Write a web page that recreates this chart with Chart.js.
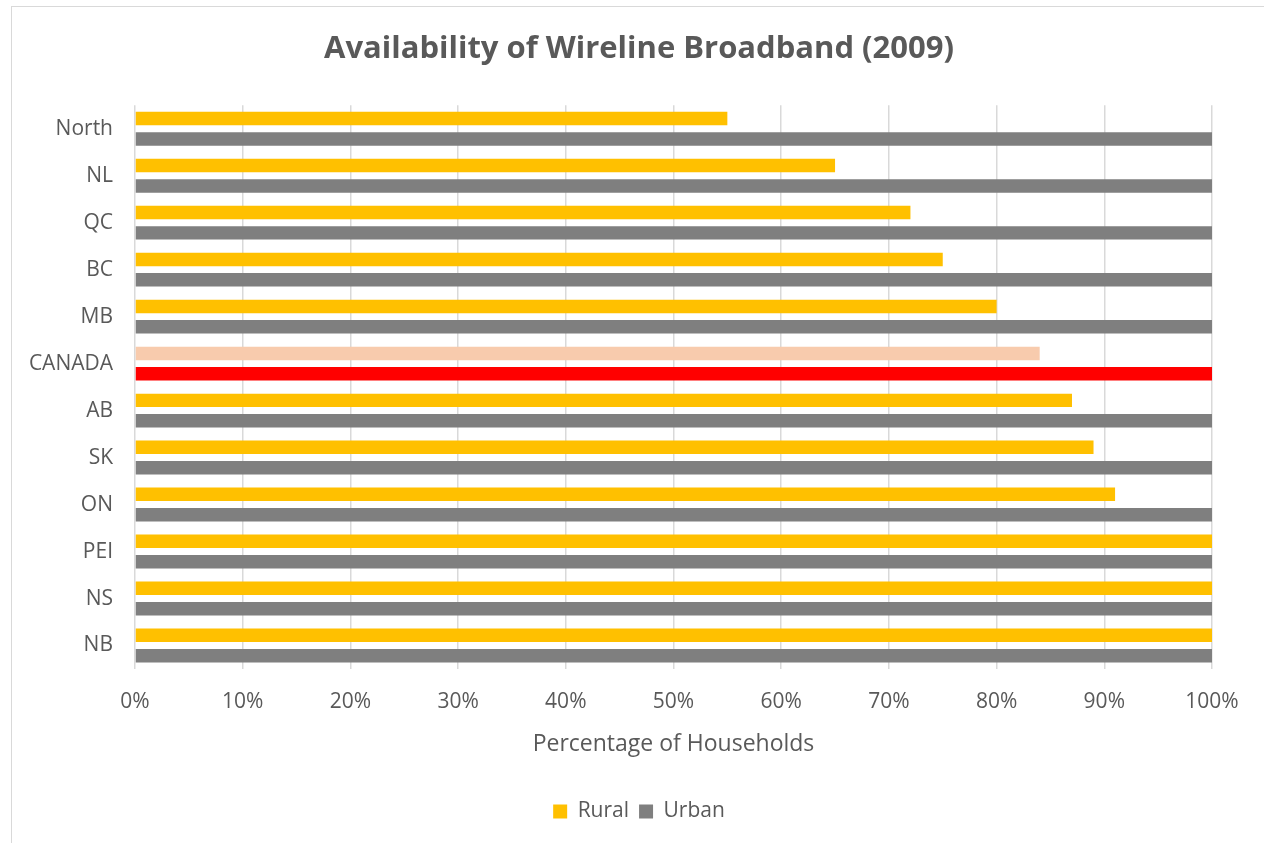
<!DOCTYPE html>
<html>
<head>
<meta charset="utf-8">
<script src="https://cdn.jsdelivr.net/npm/chart.js@4"></script>
<style>
  html, body { margin: 0; padding: 0; background: #fff; overflow: hidden; }
  #frame { position: absolute; left: 11px; top: 6px; width: 1300px; height: 900px; border: 1px solid #d9d9d9; }
  #wrap { position: absolute; left: 0; top: 0; width: 1264px; height: 843px; }
</style>
</head>
<body>
<div id="frame"></div>
<div id="wrap"><canvas id="chart"></canvas></div>
<script>
const categories = ["North", "NL", "QC", "BC", "MB", "CANADA", "AB", "SK", "ON", "PEI", "NS", "NB"];
const rural = [55, 65, 72, 75, 80, 84, 87, 89, 91, 100, 100, 100];
const urban = [100, 100, 100, 100, 100, 100, 100, 100, 100, 100, 100, 100];
const xTicks = [0, 10, 20, 30, 40, 50, 60, 70, 80, 90, 100];

const TEXT = "#595959";
const FONT = "'Open Sans', sans-serif";

function barColors(base, highlight) {
  return categories.map((c) => (c === "CANADA" ? highlight : base));
}

new Chart(document.getElementById("chart"), {
  type: "bar",
  data: {
    labels: categories,
    datasets: [
      { label: "Rural", data: rural, backgroundColor: barColors("#ffc000", "#f8cbad") },
      { label: "Urban", data: urban, backgroundColor: barColors("#7f7f7f", "#ff0000") },
    ],
  },
  options: {
    indexAxis: "y",
    responsive: true,
    maintainAspectRatio: false,
    animation: false,
    categoryPercentage: 0.87,
    barPercentage: 0.66,
    layout: { padding: { left: 66, right: 52, top: 0, bottom: 11 } },
    scales: {
      x: {
        min: 0,
        max: 100,
        afterBuildTicks: (s) => { s.ticks = xTicks.map((v) => ({ value: v })); },
        afterFit: (s) => { s.height = 122; },
        ticks: { color: TEXT, font: { family: FONT, size: 21 }, padding: 20, callback: (v) => v + "%" },
        grid: { color: "#d9d9d9", lineWidth: 1.5, drawTicks: false },
        border: { display: false },
        title: { display: true, text: "Percentage of Households", color: TEXT, font: { family: FONT, size: 23 }, padding: { bottom: 33 } },
      },
      y: {
        afterFit: (s) => {
          s.width = 69;
          // labels reach past the left padding, so don't clip them to the axis box
          s._computeLabelArea = () => undefined;
        },
        ticks: { color: TEXT, font: { family: FONT, size: 21 }, padding: 22 },
        grid: { display: false, drawTicks: false },
        border: { display: false },
      },
    },
    plugins: {
      title: {
        display: true,
        text: "Availability of Wireline Broadband (2009)",
        color: TEXT,
        font: { family: FONT, size: 31, weight: "bold" },
        padding: { top: 31, bottom: 37 },
      },
      legend: {
        position: "bottom",
        labels: { color: TEXT, font: { family: FONT, size: 21 }, boxWidth: 14, boxHeight: 14, padding: 10 },
      },
      tooltip: { enabled: false },
    },
  },
});
</script>
</body>
</html>
